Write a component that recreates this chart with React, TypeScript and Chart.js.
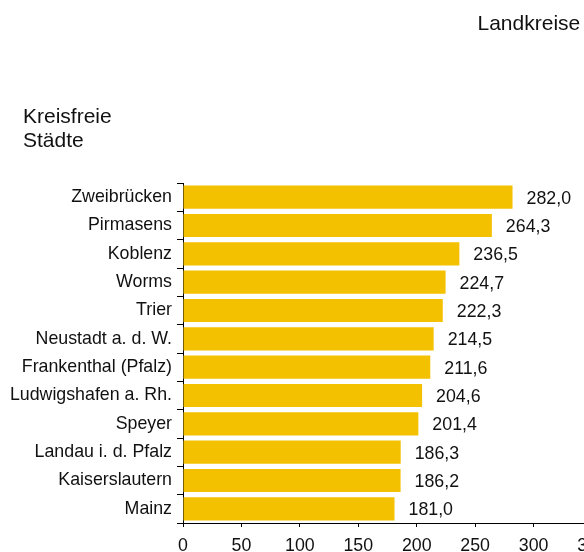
import React, { useEffect, useRef } from "react";
import { Chart, registerables } from "chart.js";

Chart.register(...registerables);

const categories = [
  "Zweibrücken",
  "Pirmasens",
  "Koblenz",
  "Worms",
  "Trier",
  "Neustadt a. d. W.",
  "Frankenthal (Pfalz)",
  "Ludwigshafen a. Rh.",
  "Speyer",
  "Landau i. d. Pfalz",
  "Kaiserslautern",
  "Mainz",
];
const values = [282.0, 264.3, 236.5, 224.7, 222.3, 214.5, 211.6, 204.6, 201.4, 186.3, 186.2, 181.0];
const leftTitle = ["Kreisfreie", "Städte"];
const rightTitle = "Landkreise";
const xMin = 0;
const xMax = 350;
const xStep = 50;

const FONT = "'Liberation Sans', Arial, Helvetica, sans-serif";
const TEXT = "#111111";
const BAR = "#F4C100";

export default function App() {
  const ref = useRef<HTMLCanvasElement | null>(null);

  useEffect(() => {
    if (!ref.current) return;
    const labelsPlugin = {
      id: "valueLabels",
      afterDatasetsDraw(chart: any) {
        const ctx = chart.ctx;
        const meta = chart.getDatasetMeta(0);
        ctx.save();
        ctx.font = `17.8px ${FONT}`;
        ctx.fillStyle = TEXT;
        ctx.textAlign = "left";
        ctx.textBaseline = "middle";
        meta.data.forEach((el: any, i: number) => {
          const txt = values[i].toFixed(1).replace(".", ",");
          ctx.fillText(txt, el.x + 14, el.y + 1.5);
        });
        ctx.restore();
      },
    };
    const titlePlugin = {
      id: "titles",
      afterDraw(chart: any) {
        const ctx = chart.ctx;
        ctx.save();
        ctx.font = `21px ${FONT}`;
        ctx.fillStyle = TEXT;
        ctx.textAlign = "left";
        ctx.textBaseline = "alphabetic";
        ctx.fillText(leftTitle[0], 23, 123);
        ctx.fillText(leftTitle[1], 23, 147);
        ctx.fillText(rightTitle, 477.5, 30);
        ctx.restore();
      },
    };
    const chart = new Chart(ref.current, {
      type: "bar",
      data: {
        labels: categories,
        datasets: [
          {
            data: values,
            backgroundColor: BAR,
            borderWidth: 0,
            categoryPercentage: 1,
            barPercentage: 0.82,
          },
        ],
      },
      options: {
        indexAxis: "y",
        animation: false,
        responsive: false,
        devicePixelRatio: 1,
        layout: { padding: { top: 183, left: 0, right: 28, bottom: 0 } },
        plugins: {
          legend: { display: false },
          tooltip: { enabled: false },
          title: { display: false },
        },
        scales: {
          x: {
            min: xMin,
            max: xMax,
            ticks: {
              stepSize: xStep,
              color: TEXT,
              font: { family: FONT, size: 17.8 },
              padding: 8,
              maxRotation: 0,
              autoSkip: false,
            },
            grid: {
              display: true,
              drawOnChartArea: false,
              drawTicks: true,
              tickLength: 4,
              color: "#000",
              lineWidth: 1,
            },
            border: { display: true, color: "#000", width: 1 },
            afterFit(scale: any) {
              scale.height = 29;
            },
          },
          y: {
            ticks: {
              color: TEXT,
              font: { family: FONT, size: 17.8 },
              padding: 5,
              autoSkip: false,
            },
            grid: {
              display: true,
              offset: true,
              drawOnChartArea: false,
              drawTicks: true,
              tickLength: 6,
              color: "#000",
              lineWidth: 1,
            },
            border: { display: true, color: "#000", width: 1 },
            afterFit(scale: any) {
              scale.width = 183;
            },
          },
        },
      },
      plugins: [labelsPlugin, titlePlugin],
    } as any);
    return () => chart.destroy();
  }, []);

  return (
    <div
      style={{
        position: "fixed",
        left: 0,
        top: 0,
        width: 584,
        height: 552,
        overflow: "hidden",
        background: "#fff",
      }}
    >
      <canvas
        ref={ref}
        width={620}
        height={552}
        style={{ position: "absolute", left: 0, top: 0, width: 620, height: 552 }}
      />
    </div>
  );
}
